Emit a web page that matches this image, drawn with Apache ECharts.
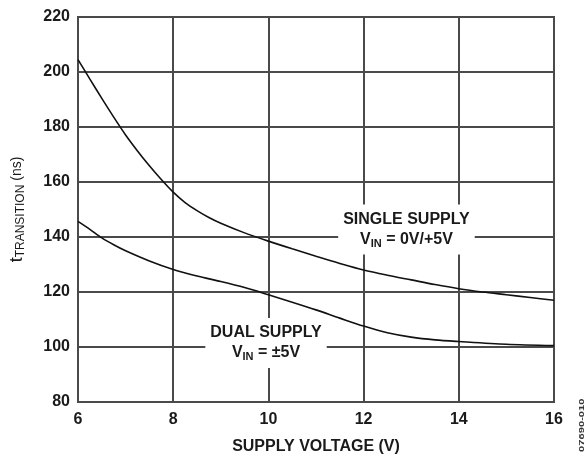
<!DOCTYPE html>
<html>
<head>
<meta charset="utf-8">
<script src="https://cdn.jsdelivr.net/npm/echarts@6/dist/echarts.min.js"></script>
<style>
  html, body { margin: 0; padding: 0; background: #fff; }
  #chart { width: 588px; height: 455px; }
</style>
</head>
<body>
<div id="chart"></div>
<script>
// Supply voltage (V) sample points
const singleVolts = [6, 6.25, 6.5, 6.75, 7, 7.25, 7.5, 7.75, 8, 8.25, 8.5, 8.75, 9, 9.5, 10, 10.5, 11, 11.5, 12, 12.5, 13, 13.5, 14, 14.5, 15, 15.5, 16];
// Transition time (ns), single supply, VIN = 0V/+5V
const singleTrans = [204.5, 197.4, 190.4, 183.6, 177.1, 171.3, 165.9, 160.9, 156.3, 152.5, 149.6, 147.1, 145, 141.5, 138.5, 135.7, 133, 130.4, 128, 126.1, 124.4, 122.7, 121.2, 120, 119, 118, 117];

const dualVolts = [6, 6.25, 6.5, 6.75, 7, 7.5, 8, 8.5, 9, 9.5, 10, 10.5, 11, 11.5, 12, 12.5, 13, 13.5, 14, 15, 16];
// Transition time (ns), dual supply, VIN = ±5V
const dualTrans = [145.7, 142.8, 139.7, 137.2, 135, 131.3, 128.2, 125.8, 123.8, 121.6, 119, 116.3, 113.5, 110.5, 107.6, 105.2, 103.6, 102.6, 102, 101, 100.5];

const xTicks = [6, 8, 10, 12, 14, 16];
const yTicks = [80, 100, 120, 140, 160, 180, 200, 220];

// Caption anchors in data units (voltage, ns)
const singleCaptionAt = [12.9, 142.7];
const dualCaptionAt = [9.95, 101.5];

const FONT = '"Liberation Sans", Arial, sans-serif';
const INK = '#1a1a1a';
const GRID = '#4a4a4a';

function pairs(xs, ys) { return xs.map((x, i) => [x, ys[i]]); }

// Boxed curve caption with a subscripted V_IN line
function caption(title, rest) {
  return {
    show: true,
    position: 'inside',
    backgroundColor: '#fff',
    padding: [5, 5, 5, 5],
    align: 'center',
    verticalAlign: 'middle',
    formatter: '{b|' + title + '}\n{v|V}{s|IN}{v|' + rest + '}',
    rich: {
      b: { fontFamily: FONT, fontWeight: 'bold', fontSize: 16, color: INK, lineHeight: 20, align: 'center' },
      v: { fontFamily: FONT, fontWeight: 'bold', fontSize: 16, color: INK, lineHeight: 20 },
      s: { fontFamily: FONT, fontWeight: 'bold', fontSize: 11, color: INK, lineHeight: 20, padding: [8, 0, 0, 0] }
    }
  };
}

const chart = echarts.init(document.getElementById('chart'), null, { renderer: 'canvas' });

chart.setOption({
  animation: false,
  backgroundColor: '#fff',
  grid: {
    left: 78, right: 34, top: 17, bottom: 53,
    outerBoundsMode: 'none',
    containLabel: false,
    show: true, borderColor: GRID, borderWidth: 2, backgroundColor: 'transparent'
  },
  xAxis: {
    type: 'value',
    min: xTicks[0], max: xTicks[xTicks.length - 1], interval: 2,
    name: 'SUPPLY VOLTAGE (V)',
    nameLocation: 'middle',
    nameGap: 37,
    nameTextStyle: { fontFamily: FONT, fontWeight: 'bold', fontSize: 16, color: INK },
    axisLine: { show: true, lineStyle: { color: GRID, width: 2 } },
    axisTick: { show: false },
    axisLabel: { fontFamily: FONT, fontWeight: 'bold', fontSize: 16, color: INK, margin: 10 },
    splitLine: { show: true, lineStyle: { color: GRID, width: 2 } }
  },
  yAxis: {
    type: 'value',
    min: yTicks[0], max: yTicks[yTicks.length - 1], interval: 20,
    name: '{t|t}{s|TRANSITION}{n| (ns)}',
    nameLocation: 'middle',
    nameGap: 51,
    nameRotate: 90,
    nameTextStyle: {
      rich: {
        t: { fontFamily: FONT, fontSize: 18, color: INK, lineHeight: 20 },
        s: { fontFamily: FONT, fontSize: 12, color: INK, lineHeight: 20, padding: [8, 0, 0, 0] },
        n: { fontFamily: FONT, fontSize: 14, color: INK, lineHeight: 20 }
      }
    },
    axisLine: { show: true, lineStyle: { color: GRID, width: 2 } },
    axisTick: { show: false },
    axisLabel: { fontFamily: FONT, fontWeight: 'bold', fontSize: 16, color: INK, margin: 8 },
    splitLine: { show: true, lineStyle: { color: GRID, width: 2 } }
  },
  series: [
    {
      name: 'Single supply',
      type: 'line',
      smooth: 0.3,
      showSymbol: false,
      data: pairs(singleVolts, singleTrans),
      lineStyle: { color: '#111', width: 1.6 },
      markPoint: {
        symbol: 'rect', symbolSize: 0, silent: true,
        data: [{ coord: singleCaptionAt, label: caption('SINGLE SUPPLY', ' = 0V/+5V') }]
      }
    },
    {
      name: 'Dual supply',
      type: 'line',
      smooth: 0.3,
      showSymbol: false,
      data: pairs(dualVolts, dualTrans),
      lineStyle: { color: '#111', width: 1.6 },
      markPoint: {
        symbol: 'rect', symbolSize: 0, silent: true,
        data: [{ coord: dualCaptionAt, label: caption('DUAL SUPPLY', ' = ±5V') }]
      }
    }
  ],
  graphic: [
    {
      type: 'text',
      x: 582, y: 452,
      rotation: Math.PI / 2,
      scaleX: 1.6,
      style: { text: '07690-010', fontFamily: FONT, fontWeight: 'bold', fontSize: 7, fill: '#333', textAlign: 'left', textVerticalAlign: 'middle' }
    }
  ]
});
</script>
</body>
</html>
